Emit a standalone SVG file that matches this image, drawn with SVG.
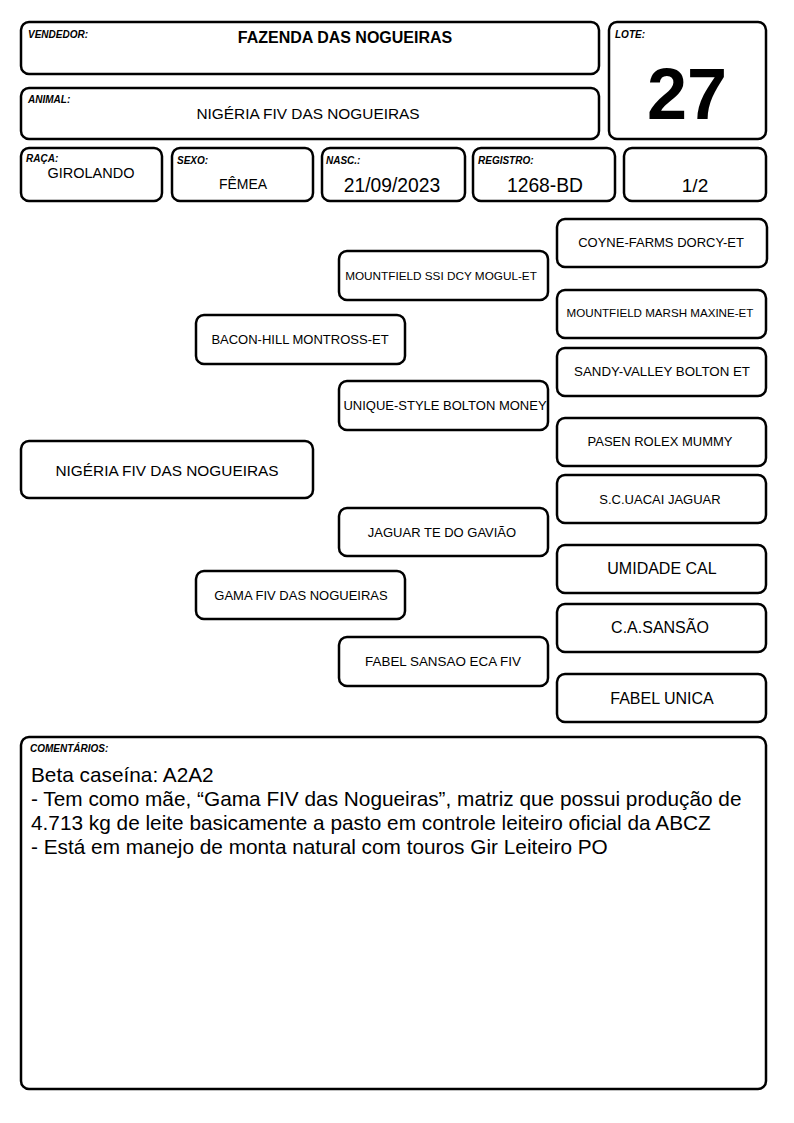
<svg xmlns="http://www.w3.org/2000/svg" width="794" height="1123" viewBox="0 0 794 1123">
<style>
.b{fill:#fff;stroke:#000;stroke-width:2.5}
.l{font-family:"Liberation Sans",Arial,sans-serif;font-size:10px;font-weight:bold;font-style:italic}
.t{font-family:"Liberation Sans",Arial,sans-serif;text-anchor:middle}
.c{font-family:"Liberation Sans",Arial,sans-serif;font-size:20.8px}
</style>
<rect width="794" height="1123" fill="#fff"/>
<g id="vendedor"><rect class="b" x="21" y="22" width="578" height="52" rx="8"/><text class="l" x="28" y="38">VENDEDOR:</text><text class="t" x="345" y="43" font-size="16" font-weight="bold">FAZENDA DAS NOGUEIRAS</text></g>
<g id="animal"><rect class="b" x="21" y="88" width="578" height="51" rx="8"/><text class="l" x="28" y="103">ANIMAL:</text><text class="t" x="308" y="119" font-size="15.4">NIGÉRIA FIV DAS NOGUEIRAS</text></g>
<g id="lote"><rect class="b" x="609" y="22" width="157" height="117" rx="8"/><text class="l" x="615" y="38">LOTE:</text><text class="t" x="687" y="119" font-size="72" font-weight="bold">27</text></g>
<g id="raca"><rect class="b" x="21" y="148" width="141" height="53" rx="8"/><text class="l" x="26" y="162">RAÇA:</text><text class="t" x="91" y="178" font-size="14.5">GIROLANDO</text></g>
<g id="sexo"><rect class="b" x="172" y="148" width="141" height="53" rx="8"/><text class="l" x="177" y="164">SEXO:</text><text class="t" x="243" y="189" font-size="14">FÊMEA</text></g>
<g id="nasc"><rect class="b" x="322" y="148" width="143" height="53" rx="8"/><text class="l" x="326" y="164">NASC.:</text><text class="t" x="392" y="192" font-size="19.3">21/09/2023</text></g>
<g id="registro"><rect class="b" x="473" y="148" width="142" height="53" rx="8"/><text class="l" x="478" y="164">REGISTRO:</text><text class="t" x="545" y="192" font-size="19.3">1268-BD</text></g>
<g id="fracao"><rect class="b" x="624" y="148" width="142" height="53" rx="8"/><text class="t" x="695" y="192" font-size="19">1/2</text></g>
<g id="p-coyne"><rect class="b" x="557" y="219" width="210" height="48" rx="8"/><text class="t" x="661" y="247" font-size="13">COYNE-FARMS DORCY-ET</text></g>
<g id="p-mogul"><rect class="b" x="339" y="251" width="209" height="49" rx="8"/><text class="t" x="441" y="280" font-size="11.75">MOUNTFIELD SSI DCY MOGUL-ET</text></g>
<g id="p-maxine"><rect class="b" x="557" y="290" width="209" height="48" rx="8"/><text class="t" x="660" y="317" font-size="11.6">MOUNTFIELD MARSH MAXINE-ET</text></g>
<g id="p-bacon"><rect class="b" x="196" y="315" width="209" height="49" rx="8"/><text class="t" x="300" y="344" font-size="13">BACON-HILL MONTROSS-ET</text></g>
<g id="p-sandy"><rect class="b" x="557" y="348" width="209" height="48" rx="8"/><text class="t" x="662" y="376" font-size="13.3">SANDY-VALLEY BOLTON ET</text></g>
<g id="p-unique"><rect class="b" x="339" y="381" width="209" height="49" rx="8"/><text class="t" x="445" y="410" font-size="13">UNIQUE-STYLE BOLTON MONEY</text></g>
<g id="p-pasen"><rect class="b" x="557" y="418" width="209" height="48" rx="8"/><text class="t" x="660" y="446" font-size="13">PASEN ROLEX MUMMY</text></g>
<g id="p-nigeria"><rect class="b" x="21" y="441" width="292" height="57" rx="8"/><text class="t" x="167" y="476" font-size="15.4">NIGÉRIA FIV DAS NOGUEIRAS</text></g>
<g id="p-uacai"><rect class="b" x="557" y="475" width="209" height="48" rx="8"/><text class="t" x="660" y="504" font-size="13">S.C.UACAI JAGUAR</text></g>
<g id="p-jaguar"><rect class="b" x="339" y="508" width="209" height="48" rx="8"/><text class="t" x="442" y="537" font-size="13">JAGUAR TE DO GAVIÃO</text></g>
<g id="p-umidade"><rect class="b" x="557" y="545" width="209" height="48" rx="8"/><text class="t" x="662" y="574" font-size="16">UMIDADE CAL</text></g>
<g id="p-gama"><rect class="b" x="196" y="571" width="209" height="48" rx="8"/><text class="t" x="301" y="600" font-size="13">GAMA FIV DAS NOGUEIRAS</text></g>
<g id="p-casansao"><rect class="b" x="557" y="604" width="209" height="48" rx="8"/><text class="t" x="660" y="633" font-size="16">C.A.SANSÃO</text></g>
<g id="p-fabelsansao"><rect class="b" x="339" y="637" width="209" height="49" rx="8"/><text class="t" x="443" y="666" font-size="13.4">FABEL SANSAO ECA FIV</text></g>
<g id="p-fabelunica"><rect class="b" x="557" y="674" width="209" height="48" rx="8"/><text class="t" x="662" y="704" font-size="16">FABEL UNICA</text></g>
<g id="comentarios"><rect class="b" x="21" y="737" width="745" height="352" rx="8"/><text class="l" x="30" y="752" font-size="9">COMENTÁRIOS:</text>
<text class="c" x="31" y="782">Beta caseína: A2A2</text>
<text class="c" x="31" y="806">- Tem como mãe, “Gama FIV das Nogueiras”, matriz que possui produção de</text>
<text class="c" x="31" y="830">4.713 kg de leite basicamente a pasto em controle leiteiro oficial da ABCZ</text>
<text class="c" x="31" y="854">- Está em manejo de monta natural com touros Gir Leiteiro PO</text></g>
<g id="connectors"/>
</svg>
